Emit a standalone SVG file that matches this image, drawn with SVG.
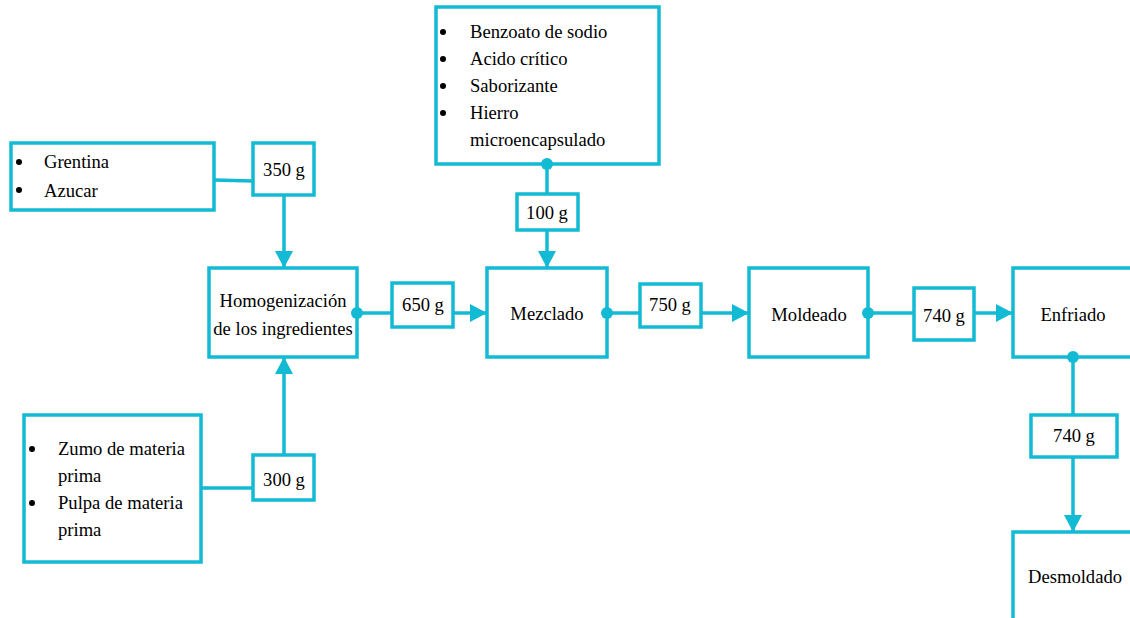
<svg xmlns="http://www.w3.org/2000/svg" width="1130" height="618" viewBox="0 0 1130 618">
  <style>
    .box { fill: #ffffff; stroke: #13BAD4; stroke-width: 3.5; }
    .wire { fill: none; stroke: #13BAD4; stroke-width: 3.5; }
    .dot { fill: #13BAD4; }
    .bul { fill: #000000; }
    text { font-family: "Liberation Serif", "Times New Roman", serif; font-size: 18.6px; fill: #000000; }
    .c { text-anchor: middle; }
  </style>
  <defs>
    <marker id="arrow" markerUnits="userSpaceOnUse" markerWidth="18" markerHeight="20" viewBox="0 0 18 20" refX="17" refY="10" orient="auto">
      <path d="M0,1 L17,10 L0,19 Z" fill="#13BAD4"/>
    </marker>
  </defs>

  <!-- connectors -->
  <g id="connectors">
    <line class="wire" x1="214" y1="180" x2="253" y2="181"/>
    <line class="wire" x1="284" y1="195" x2="284" y2="268" marker-end="url(#arrow)"/>
    <line class="wire" x1="201" y1="488" x2="253" y2="488"/>
    <line class="wire" x1="284" y1="455" x2="284" y2="357" marker-end="url(#arrow)"/>
    <line class="wire" x1="357" y1="313" x2="392" y2="313"/>
    <line class="wire" x1="453" y1="313" x2="487" y2="313" marker-end="url(#arrow)"/>
    <line class="wire" x1="547" y1="164" x2="547" y2="194"/>
    <line class="wire" x1="547" y1="230" x2="547" y2="268" marker-end="url(#arrow)"/>
    <line class="wire" x1="607" y1="313" x2="640" y2="313"/>
    <line class="wire" x1="701" y1="313" x2="749" y2="313" marker-end="url(#arrow)"/>
    <line class="wire" x1="868" y1="313" x2="914" y2="313"/>
    <line class="wire" x1="974" y1="313" x2="1013" y2="313" marker-end="url(#arrow)"/>
    <line class="wire" x1="1073" y1="357" x2="1073" y2="415"/>
    <line class="wire" x1="1073" y1="457" x2="1073" y2="532" marker-end="url(#arrow)"/>
  </g>

  <!-- inputs: gelatin and sugar -->
  <g id="input-gelatina">
    <rect class="box" x="11" y="143" width="203" height="67"/>
    <circle class="bul" cx="19" cy="162" r="3"/>
    <text x="44" y="168">Grentina</text>
    <circle class="bul" cx="19" cy="190" r="3"/>
    <text x="44" y="197">Azucar</text>
  </g>
  <g id="q-350">
    <rect class="box" x="253" y="143" width="61" height="52"/>
    <text class="c" x="284" y="176">350 g</text>
  </g>

  <!-- inputs: juice and pulp -->
  <g id="input-zumo">
    <rect class="box" x="24" y="415" width="177" height="147"/>
    <circle class="bul" cx="32" cy="449" r="3"/>
    <text x="58" y="455">Zumo de materia</text>
    <text x="58" y="482">prima</text>
    <circle class="bul" cx="32" cy="503" r="3"/>
    <text x="58" y="509">Pulpa de materia</text>
    <text x="58" y="536">prima</text>
  </g>
  <g id="q-300">
    <rect class="box" x="253" y="455" width="61" height="45"/>
    <text class="c" x="284" y="486">300 g</text>
  </g>

  <!-- additives -->
  <g id="input-aditivos">
    <rect class="box" x="436" y="7" width="223" height="157"/>
    <circle class="bul" cx="443" cy="32" r="3"/>
    <text x="470" y="38">Benzoato de sodio</text>
    <circle class="bul" cx="443" cy="59" r="3"/>
    <text x="470" y="65">Acido crítico</text>
    <circle class="bul" cx="443" cy="86" r="3"/>
    <text x="470" y="92">Saborizante</text>
    <circle class="bul" cx="443" cy="113" r="3"/>
    <text x="470" y="119">Hierro</text>
    <text x="470" y="146">microencapsulado</text>
    <circle class="dot" cx="547" cy="164" r="6"/>
  </g>
  <g id="q-100">
    <rect class="box" x="517" y="194" width="61" height="36"/>
    <text class="c" x="547" y="219">100 g</text>
  </g>

  <!-- process steps -->
  <g id="homogenizacion">
    <rect class="box" x="209" y="268" width="148" height="89"/>
    <text class="c" x="283" y="307">Homogenización</text>
    <text class="c" x="283" y="335">de los ingredientes</text>
    <circle class="dot" cx="357" cy="313" r="6"/>
  </g>
  <g id="q-650">
    <rect class="box" x="392" y="283" width="61" height="44"/>
    <text class="c" x="423" y="311">650 g</text>
  </g>
  <g id="mezclado">
    <rect class="box" x="487" y="268" width="120" height="89"/>
    <text class="c" x="547" y="320">Mezclado</text>
    <circle class="dot" cx="607" cy="313" r="6"/>
  </g>
  <g id="q-750">
    <rect class="box" x="640" y="284" width="61" height="43"/>
    <text class="c" x="670" y="311">750 g</text>
  </g>
  <g id="moldeado">
    <rect class="box" x="749" y="268" width="119" height="89"/>
    <text class="c" x="809" y="321">Moldeado</text>
    <circle class="dot" cx="868" cy="313" r="6"/>
  </g>
  <g id="q-740a">
    <rect class="box" x="914" y="288" width="60" height="52"/>
    <text class="c" x="944" y="322">740 g</text>
  </g>
  <g id="enfriado">
    <rect class="box" x="1013" y="268" width="130" height="89"/>
    <text class="c" x="1073" y="321">Enfriado</text>
    <circle class="dot" cx="1073" cy="357" r="6"/>
  </g>
  <g id="q-740b">
    <rect class="box" x="1031" y="415" width="86" height="42"/>
    <text class="c" x="1074" y="442">740 g</text>
  </g>
  <g id="desmoldado">
    <rect class="box" x="1013" y="532" width="130" height="100"/>
    <text class="c" x="1075" y="583">Desmoldado</text>
  </g>
</svg>
